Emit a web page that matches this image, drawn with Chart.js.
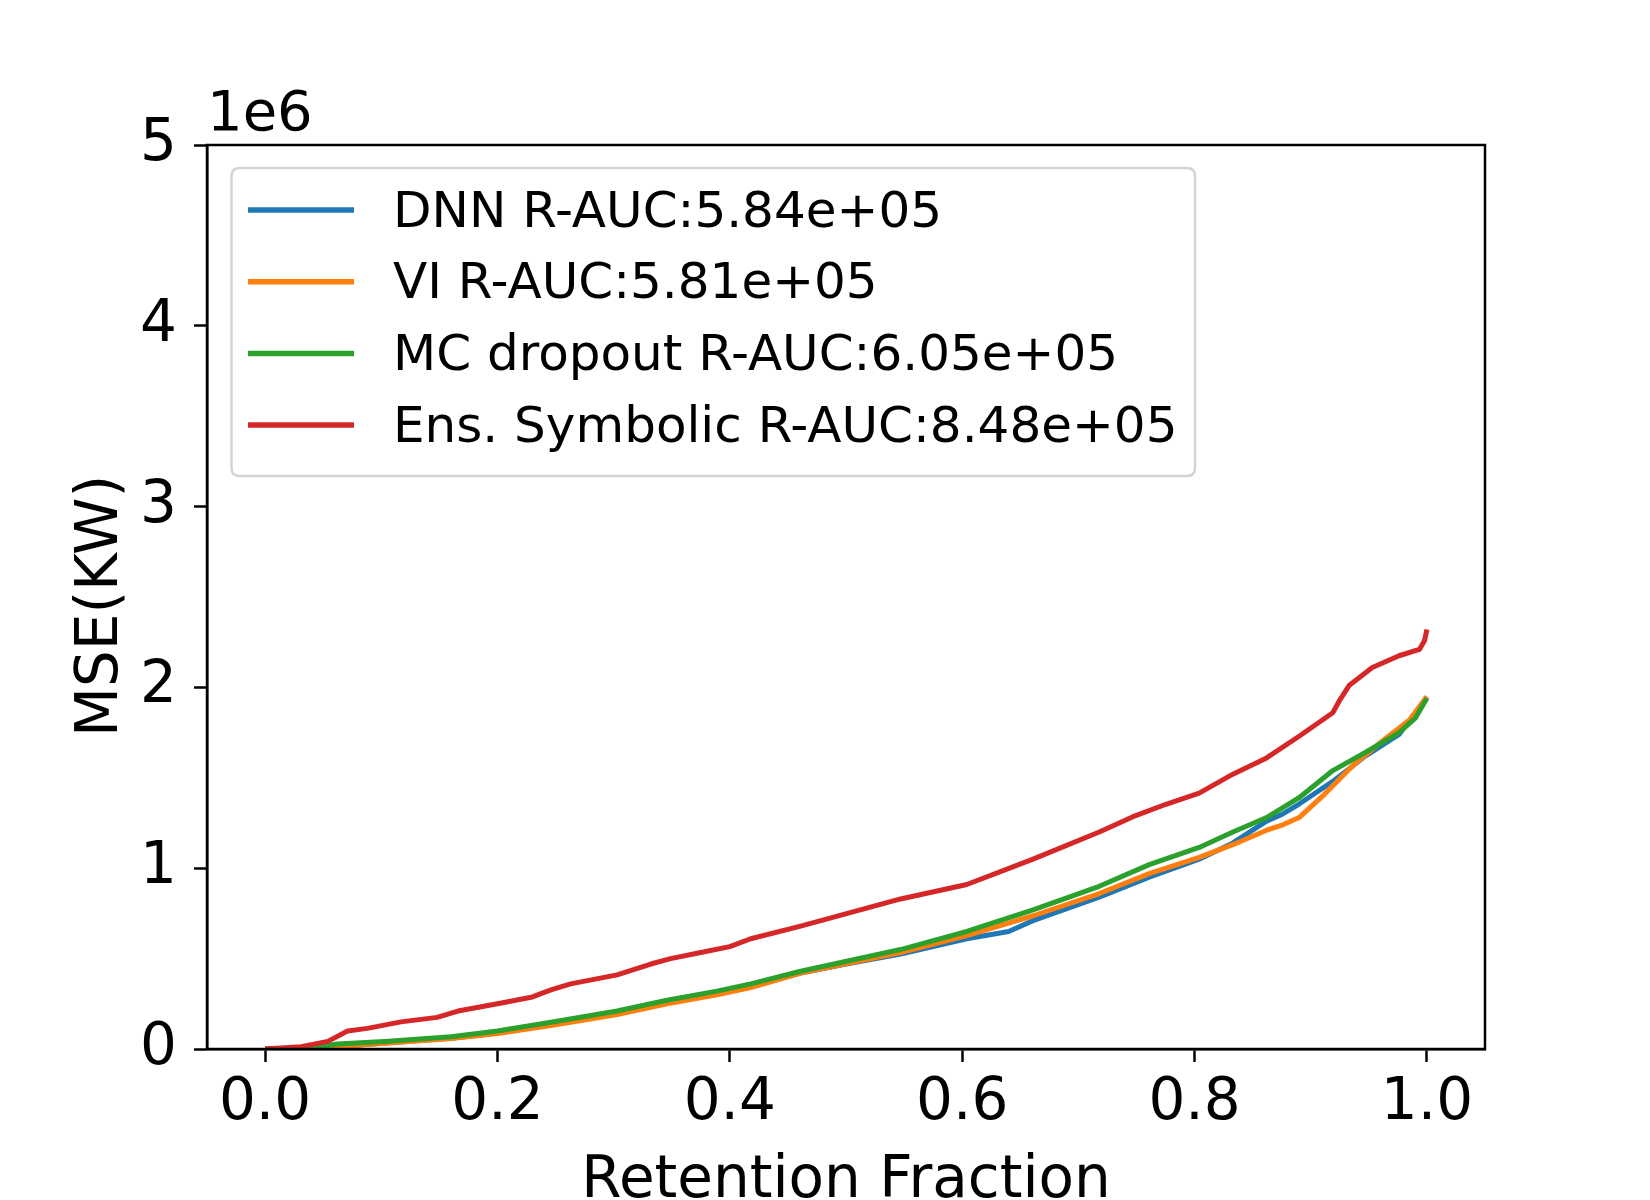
<!DOCTYPE html>
<html>
<head>
<meta charset="utf-8">
<script src="https://cdn.jsdelivr.net/npm/chart.js@4.4.1/dist/chart.umd.min.js"></script>
<style>
  html, body { margin: 0; padding: 0; background: #ffffff; overflow: hidden; }
  #wrap { width: 1650px; height: 1200px; }
</style>
</head>
<body>
<div id="wrap"><canvas id="c" width="1650" height="1200"></canvas></div>
<script>
// ---- data ----
const seriesLabels = [
  "DNN R-AUC:5.84e+05",
  "VI R-AUC:5.81e+05",
  "MC dropout R-AUC:6.05e+05",
  "Ens. Symbolic R-AUC:8.48e+05"
];
const seriesColors = ["#1f77b4", "#ff7f0e", "#2ca02c", "#d62728"];

const xTicks = [0.0, 0.2, 0.4, 0.6, 0.8, 1.0];
const yTicks = [0, 1000000, 2000000, 3000000, 4000000, 5000000];
const yOffsetLabel = "1e6";
const xTitle = "Retention Fraction";
const yTitle = "MSE(KW)";

const dnnX = [0, 0.045, 0.1, 0.16, 0.2, 0.246, 0.303, 0.346, 0.389, 0.418, 0.461, 0.5, 0.547, 0.604, 0.64, 0.661, 0.718, 0.761, 0.804, 0.833, 0.862, 0.876, 0.89, 0.919, 0.947, 0.976, 1.0];
const dnnY = [0, 5000, 32000, 60000, 88000, 135000, 195000, 255000, 305000, 345000, 420000, 470000, 525000, 610000, 650000, 710000, 840000, 950000, 1050000, 1140000, 1260000, 1300000, 1355000, 1480000, 1620000, 1740000, 1945000];

const viX = [0, 0.045, 0.1, 0.16, 0.2, 0.246, 0.303, 0.346, 0.389, 0.418, 0.461, 0.547, 0.604, 0.661, 0.718, 0.761, 0.804, 0.833, 0.862, 0.876, 0.89, 0.912, 0.935, 0.962, 0.985, 1.0];
const viY = [0, 5000, 30000, 58000, 85000, 130000, 190000, 250000, 300000, 340000, 420000, 534000, 627000, 737000, 860000, 970000, 1060000, 1130000, 1210000, 1240000, 1280000, 1410000, 1560000, 1705000, 1820000, 1950000];

const mcX = [0, 0.045, 0.062, 0.103, 0.16, 0.2, 0.246, 0.303, 0.346, 0.389, 0.418, 0.461, 0.547, 0.604, 0.661, 0.718, 0.761, 0.804, 0.833, 0.862, 0.89, 0.919, 0.947, 0.976, 0.99, 1.0];
const mcY = [0, 10000, 28000, 42000, 68000, 100000, 148000, 210000, 270000, 320000, 360000, 430000, 550000, 650000, 770000, 900000, 1020000, 1115000, 1200000, 1280000, 1390000, 1540000, 1640000, 1750000, 1830000, 1940000];

const ensX = [0, 0.031, 0.054, 0.071, 0.088, 0.117, 0.148, 0.166, 0.2, 0.229, 0.246, 0.263, 0.303, 0.332, 0.349, 0.375, 0.4, 0.418, 0.461, 0.547, 0.604, 0.661, 0.718, 0.747, 0.776, 0.804, 0.833, 0.862, 0.89, 0.919, 0.925, 0.933, 0.953, 0.976, 0.9935, 0.998, 1.0];
const ensY = [0, 13000, 42000, 100000, 114000, 150000, 175000, 210000, 250000, 286000, 327000, 360000, 410000, 470000, 500000, 534000, 566000, 610000, 680000, 830000, 910000, 1050000, 1200000, 1285000, 1355000, 1415000, 1520000, 1610000, 1730000, 1860000, 1930000, 2010000, 2110000, 2175000, 2210000, 2260000, 2320000];

const xsAll = [dnnX, viX, mcX, ensX];
const ysAll = [dnnY, viY, mcY, ensY];

// ---- layout / style ----
const FONT = '"DejaVu Sans", "Liberation Sans", sans-serif';
const AREA = { left: 207, top: 145, right: 1485, bottom: 1049 };
const W = 1650, H = 1200;

const datasets = seriesLabels.map((lab, i) => ({
  label: lab,
  data: xsAll[i].map((x, j) => ({ x: x, y: ysAll[i][j] })),
  borderColor: seriesColors[i],
  backgroundColor: seriesColors[i],
  borderWidth: 5,
  pointRadius: 0,
  tension: 0,
  fill: false,
  order: seriesLabels.length - i,
  borderJoinStyle: 'round',
  borderCapStyle: 'butt'
}));

const decorPlugin = {
  id: 'decor',
  afterDatasetsDraw(chart) {
    const ctx = chart.ctx;
    const ca = chart.chartArea;
    ctx.save();
    // frame
    ctx.strokeStyle = '#000';
    ctx.lineWidth = 2.5;
    ctx.strokeRect(ca.left, ca.top, ca.right - ca.left, ca.bottom - ca.top);

    // legend
    const bx = 231.5, by = 168, bw = 1195 - 231.5, bh = 476 - 168, r = 8;
    ctx.beginPath();
    ctx.moveTo(bx + r, by);
    ctx.lineTo(bx + bw - r, by);
    ctx.quadraticCurveTo(bx + bw, by, bx + bw, by + r);
    ctx.lineTo(bx + bw, by + bh - r);
    ctx.quadraticCurveTo(bx + bw, by + bh, bx + bw - r, by + bh);
    ctx.lineTo(bx + r, by + bh);
    ctx.quadraticCurveTo(bx, by + bh, bx, by + bh - r);
    ctx.lineTo(bx, by + r);
    ctx.quadraticCurveTo(bx, by, bx + r, by);
    ctx.closePath();
    ctx.fillStyle = 'rgba(255,255,255,0.8)';
    ctx.fill();
    ctx.strokeStyle = '#d4d4d4';
    ctx.lineWidth = 2.5;
    ctx.stroke();

    ctx.font = '50px ' + FONT;
    ctx.textAlign = 'left';
    ctx.textBaseline = 'alphabetic';
    chart.data.datasets.forEach((ds, i) => {
      const ly = 210 + i * 71.7;
      ctx.strokeStyle = ds.borderColor;
      ctx.lineWidth = 5.5;
      ctx.beginPath();
      ctx.moveTo(248, ly);
      ctx.lineTo(354, ly);
      ctx.stroke();
      ctx.fillStyle = '#000';
      ctx.fillText(ds.label, 393, 226.7 + i * 71.7);
    });

    // axis titles and offset label
    ctx.fillStyle = '#000';
    ctx.font = '58px ' + FONT;
    ctx.textAlign = 'center';
    ctx.fillText(xTitle, (ca.left + ca.right) / 2, 1197);
    ctx.save();
    ctx.translate(116.5, 606);
    ctx.rotate(-Math.PI / 2);
    ctx.fillText(yTitle, 0, 0);
    ctx.restore();
    ctx.font = '56px ' + FONT;
    ctx.textAlign = 'left';
    ctx.fillText(yOffsetLabel, 207, 130);
    ctx.restore();
  }
};

new Chart(document.getElementById('c'), {
  type: 'line',
  data: { datasets: datasets },
  options: {
    responsive: false,
    animation: false,
    devicePixelRatio: 1,
    layout: { padding: { left: 0, top: AREA.top, right: W - AREA.right, bottom: 0 } },
    plugins: { legend: { display: false }, tooltip: { enabled: false }, title: { display: false } },
    scales: {
      x: {
        type: 'linear',
        min: -0.05,
        max: 1.05,
        afterBuildTicks(scale) { scale.ticks = xTicks.map(v => ({ value: v })); },
        afterFit(scale) { scale.height = H - AREA.bottom; },
        ticks: {
          callback: (v) => Number(v).toFixed(1),
          color: '#000',
          font: { family: FONT, size: 58 },
          padding: 7,
          maxRotation: 0,
          autoSkip: false
        },
        grid: { drawOnChartArea: false, drawTicks: true, tickLength: 13, tickWidth: 2.5, color: '#000' },
        border: { display: true, color: '#000', width: 2.5 }
      },
      y: {
        type: 'linear',
        min: 0,
        max: 5000000,
        afterBuildTicks(scale) { scale.ticks = yTicks.map(v => ({ value: v })); },
        afterFit(scale) { scale.width = AREA.left; },
        ticks: {
          callback: (v) => String(Math.round(v / 1000000)),
          color: '#000',
          font: { family: FONT, size: 58 },
          padding: 17,
          autoSkip: false
        },
        grid: { drawOnChartArea: false, drawTicks: true, tickLength: 13, tickWidth: 2.5, color: '#000' },
        border: { display: true, color: '#000', width: 2.5 }
      }
    }
  },
  plugins: [decorPlugin]
});
</script>
</body>
</html>
